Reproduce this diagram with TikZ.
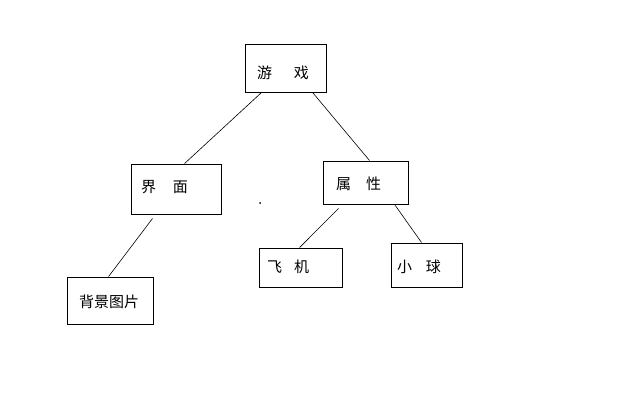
\documentclass[tikz,border=0pt]{standalone}
\usepackage{fontspec}
\newfontfamily\cjk{Noto Sans CJK SC}
\usetikzlibrary{calc}

\begin{document}
\begin{tikzpicture}[x=1pt,y=-1pt,
  box/.style={draw, line width=0.9pt, align=left, inner ysep=0pt,
    font=\cjk\fontsize{15}{17}\selectfont},
  link/.style={line width=0.6pt}]
  \path[use as bounding box, fill=white] (0,0) rectangle (625,417);

  % boxes
  \node[box, text width=57pt, inner xsep=12pt, text height=34.5pt, text depth=13.5pt]
    (game) at (285.5,68) {游\hspace{22pt}戏};
  \node[box, text width=70pt, inner xsep=10pt, text height=28.5pt, text depth=21.5pt]
    (ui) at (176,189) {界\hspace{17pt}面};
  \node[box, text width=59pt, inner xsep=13pt, text height=28.5pt, text depth=14.5pt]
    (attr) at (365.5,182.5) {属\hspace{15pt}性};
  \node[box, text width=67pt, inner xsep=8pt, text height=24.5pt, text depth=14.5pt]
    (plane) at (300.5,267.5) {飞\hspace{12pt}机};
  \node[box, text width=59pt, inner xsep=6pt, text height=29.5pt, text depth=14.5pt]
    (ball) at (426.5,265) {小\hspace{14pt}球};
  \node[box, text width=62pt, inner xsep=12pt, text height=30.5pt, text depth=16.5pt]
    (bg) at (110,300.5) {背景图片};

  % links
  \draw[link] ($(game.south west)+(17,0)$) -- ($(ui.north west)+(54,0)$);
  \draw[link] ($(game.south west)+(68,0)$) -- ($(attr.north west)+(47,0)$);
  \draw[link] ($(ui.south west)+(22,4)$) -- ($(bg.north west)+(42,0)$);
  \draw[link] ($(attr.south west)+(16,4)$) -- ($(plane.north west)+(41,0)$);
  \draw[link] ($(attr.south west)+(72,0)$) -- ($(ball.north west)+(31,0)$);

  \fill (260,203) circle (1);
\end{tikzpicture}
\end{document}
